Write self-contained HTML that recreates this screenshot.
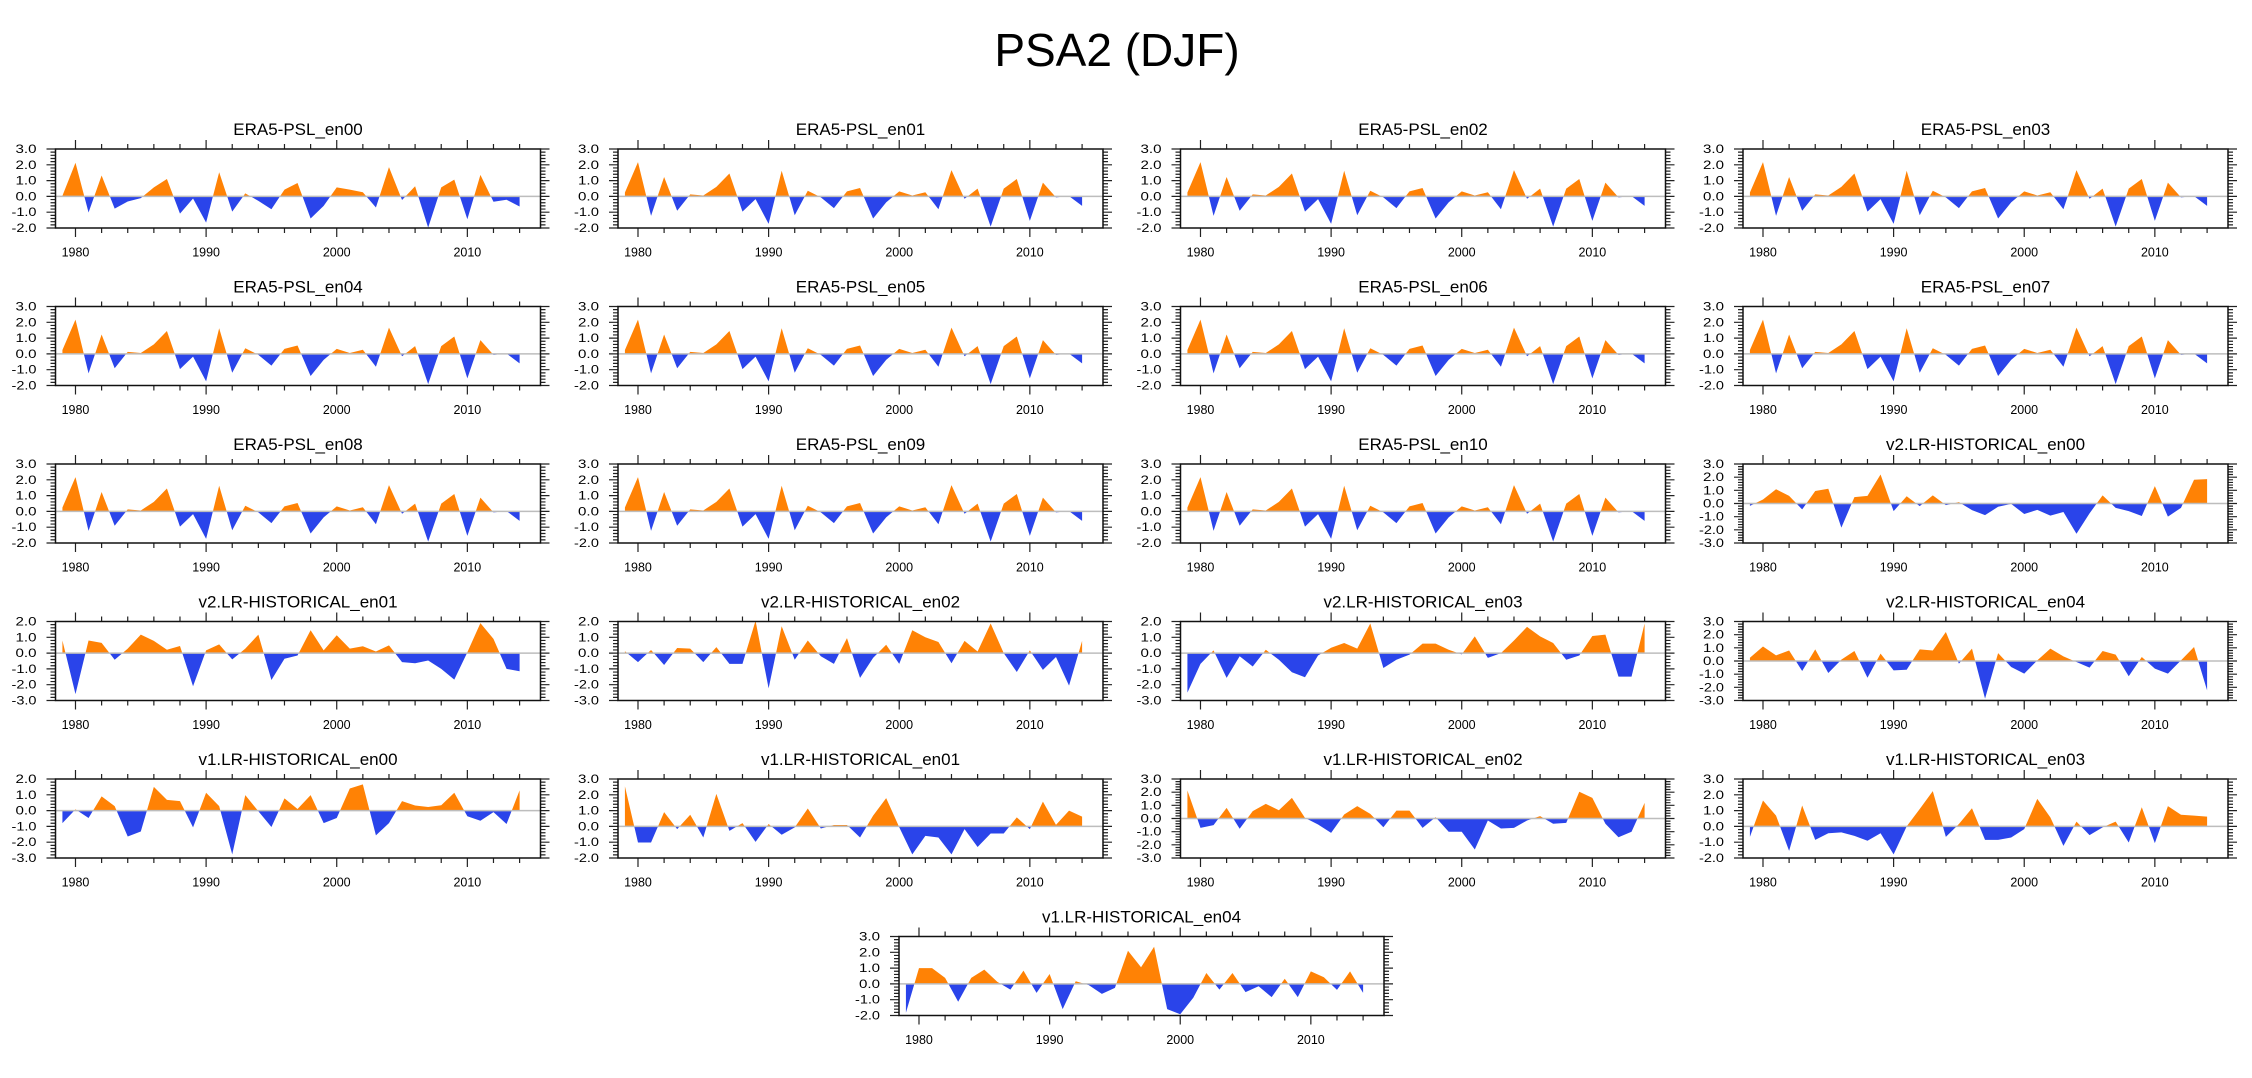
<!DOCTYPE html>
<html><head><meta charset="utf-8">
<style>
html,body{margin:0;padding:0;background:#fff;}
svg{display:block;font-family:"Liberation Sans",Arial,sans-serif;}
</style></head>
<body>
<svg id="fig" width="2252" height="1078" viewBox="0 0 2252 1078" xmlns="http://www.w3.org/2000/svg">
<rect width="2252" height="1078" fill="#fff"/>
<text x="1117" y="66" font-size="46" text-anchor="middle" fill="#000">PSA2 (DJF)</text>
</svg>
<script>
// ---- data (DJF PSA2 index, 1979-2014) ----
const years = [1979,1980,1981,1982,1983,1984,1985,1986,1987,1988,1989,1990,1991,1992,1993,1994,1995,1996,1997,1998,1999,2000,2001,2002,2003,2004,2005,2006,2007,2008,2009,2010,2011,2012,2013,2014];
const xTickYears = [1980,1990,2000,2010];
const era5En00 = [0.04,2.13,-1.02,1.32,-0.77,-0.32,-0.11,0.57,1.1,-1.09,-0.13,-1.66,1.53,-0.96,0.19,-0.28,-0.81,0.43,0.85,-1.4,-0.6,0.57,0.43,0.26,-0.7,1.85,-0.23,0.64,-1.98,0.57,1.06,-1.45,1.36,-0.34,-0.21,-0.64];
const era5Ens = [0.25,2.17,-1.23,1.23,-0.91,0.13,0.06,0.6,1.45,-0.96,-0.17,-1.74,1.62,-1.19,0.36,-0.06,-0.74,0.32,0.53,-1.4,-0.38,0.32,0.06,0.26,-0.81,1.66,-0.15,0.49,-1.91,0.49,1.1,-1.55,0.87,-0.06,0.02,-0.6];
const v2En00 = [-0.18,0.3,1.08,0.58,-0.45,0.95,1.12,-1.83,0.48,0.58,2.2,-0.58,0.55,-0.2,0.62,-0.12,0.1,-0.5,-0.88,-0.25,-0.03,-0.8,-0.48,-0.92,-0.65,-2.3,-0.75,0.62,-0.33,-0.58,-0.95,1.32,-1.0,-0.33,1.8,1.85];
const v2En01 = [0.8,-2.6,0.8,0.65,-0.42,0.28,1.17,0.77,0.21,0.45,-2.1,0.17,0.55,-0.4,0.28,1.17,-1.7,-0.36,-0.15,1.45,0.17,1.13,0.28,0.43,0.1,0.49,-0.57,-0.64,-0.47,-1.0,-1.68,0.05,1.9,0.9,-1.0,-1.15];
const v2En02 = [0.12,-0.57,0.2,-0.75,0.32,0.28,-0.57,0.38,-0.68,-0.68,2.05,-2.23,1.7,-0.42,0.8,-0.2,-0.68,0.95,-1.57,-0.3,0.53,-0.68,1.45,1.0,0.7,-0.64,0.77,0.1,1.87,0.0,-1.2,0.17,-1.06,-0.25,-2.06,0.77];
const v2En03 = [-2.5,-0.68,0.17,-1.57,-0.2,-0.85,0.21,-0.42,-1.21,-1.53,-0.15,0.34,0.64,0.28,1.87,-0.94,-0.42,-0.1,0.6,0.6,0.21,-0.08,1.06,-0.3,0.0,0.8,1.66,1.06,0.64,-0.42,-0.15,1.08,1.17,-1.49,-1.49,1.87];
const v2En04 = [0.25,1.1,0.43,0.8,-0.76,0.88,-0.91,0.1,0.76,-1.27,0.56,-0.71,-0.66,0.88,0.8,2.2,-0.2,0.94,-2.86,0.6,-0.46,-0.96,0.05,0.94,0.35,-0.08,-0.5,0.76,0.48,-1.16,0.3,-0.58,-0.96,0.05,1.06,-2.23];
const v1En00 = [-0.79,0.08,-0.47,0.9,0.28,-1.64,-1.32,1.5,0.68,0.6,-1.06,1.13,0.28,-2.77,0.98,-0.04,-1.04,0.77,0.1,0.98,-0.79,-0.47,1.4,1.66,-1.57,-0.79,0.6,0.32,0.23,0.34,1.13,-0.36,-0.64,-0.1,-0.85,1.28];
const v1En01 = [2.53,-1.02,-1.02,0.9,-0.17,0.74,-0.7,2.06,-0.28,0.21,-0.98,0.15,-0.53,-0.06,1.13,-0.13,0.09,0.09,-0.7,0.68,1.79,-0.05,-1.77,-0.6,-0.7,-1.77,-0.17,-1.3,-0.45,-0.45,0.57,-0.17,1.57,0.1,1.0,0.62];
const v1En02 = [2.13,-0.71,-0.5,0.81,-0.78,0.56,1.11,0.63,1.57,0.05,-0.46,-1.09,0.3,0.94,0.35,-0.66,0.6,0.6,-0.71,0.1,-1.01,-1.01,-2.35,-0.15,-0.76,-0.71,-0.15,0.18,-0.4,-0.33,2.03,1.57,-0.4,-1.42,-1.01,1.19];
const v1En03 = [-0.66,1.64,0.68,-1.55,1.32,-0.85,-0.43,-0.38,-0.6,-0.91,-0.43,-1.77,0.0,1.1,2.23,-0.66,0.15,1.15,-0.85,-0.85,-0.7,-0.17,1.74,0.57,-1.23,0.3,-0.55,-0.06,0.3,-1.02,1.21,-1.06,1.28,0.74,0.68,0.62];
const v1En04 = [-1.83,1.0,1.0,0.38,-1.13,0.38,0.9,0.13,-0.36,0.84,-0.57,0.63,-1.6,0.17,-0.08,-0.63,-0.25,2.1,1.05,2.35,-1.6,-1.92,-0.88,0.69,-0.36,0.69,-0.52,-0.15,-0.84,0.33,-0.84,0.79,0.42,-0.38,0.79,-0.57];

const panelTitles = ["ERA5-PSL_en00","ERA5-PSL_en01","ERA5-PSL_en02","ERA5-PSL_en03","ERA5-PSL_en04","ERA5-PSL_en05","ERA5-PSL_en06","ERA5-PSL_en07","ERA5-PSL_en08","ERA5-PSL_en09","ERA5-PSL_en10","v2.LR-HISTORICAL_en00","v2.LR-HISTORICAL_en01","v2.LR-HISTORICAL_en02","v2.LR-HISTORICAL_en03","v2.LR-HISTORICAL_en04","v1.LR-HISTORICAL_en00","v1.LR-HISTORICAL_en01","v1.LR-HISTORICAL_en02","v1.LR-HISTORICAL_en03","v1.LR-HISTORICAL_en04"];
const panelSeries = [era5En00,era5Ens,era5Ens,era5Ens,era5Ens,era5Ens,era5Ens,era5Ens,era5Ens,era5Ens,era5Ens,v2En00,v2En01,v2En02,v2En03,v2En04,v1En00,v1En01,v1En02,v1En03,v1En04];
const panelYMax = [3,3,3,3,3,3,3,3,3,3,3,3,2,2,2,3,2,3,3,3,3];
const panelYMin = [-2,-2,-2,-2,-2,-2,-2,-2,-2,-2,-2,-3,-3,-3,-3,-3,-3,-2,-3,-2,-2];

const NS = "http://www.w3.org/2000/svg";
const svg = document.getElementById('fig');
const X0 = 1978.47, X1 = 2015.6;
const PW = 485, PH = 79;
const ORANGE = "#ff8205", BLUE = "#2a44ea";

function mk(tag, attrs, parent){
  const e = document.createElementNS(NS, tag);
  for (const k in attrs) e.setAttribute(k, attrs[k]);
  parent.appendChild(e);
  return e;
}

panelTitles.forEach((title, p) => {
  const row = Math.floor(p/4), col = p%4;
  const left = p === 20 ? 899 : 55.5 + 562.5*col;
  const top = 149 + 157.5*row;
  const ymax = panelYMax[p], ymin = panelYMin[p];
  const data = panelSeries[p];
  const xs = v => left + (v - X0) / (X1 - X0) * PW;
  const ys = v => top + (ymax - v) / (ymax - ymin) * PH;

  const g = mk('g', {}, svg);
  
  

  const t = mk('text', {x: left + PW/2, y: top - 14, 'font-size': 17, 'text-anchor': 'middle', fill: '#000'}, g);
  t.textContent = title;
  
  

  // clip paths
  const cid = 'c' + p;
  const defs = mk('defs', {}, g);
  const cpU = mk('clipPath', {id: cid + 'u'}, defs);
  mk('rect', {x: left, y: top, width: PW, height: ys(0) - top}, cpU);
  const cpD = mk('clipPath', {id: cid + 'd'}, defs);
  mk('rect', {x: left, y: ys(0), width: PW, height: top + PH - ys(0)}, cpD);

  let d = 'M' + xs(years[0]).toFixed(2) + ',' + ys(0).toFixed(2);
  years.forEach((yr, i) => { d += ' L' + xs(yr).toFixed(2) + ',' + ys(data[i]).toFixed(2); });
  d += ' L' + xs(years[years.length-1]).toFixed(2) + ',' + ys(0).toFixed(2) + ' Z';

  const pos = mk('path', {d: d, fill: ORANGE, 'clip-path': 'url(#' + cid + 'u)'}, g);
  
  
  const neg = mk('path', {d: d, fill: BLUE, 'clip-path': 'url(#' + cid + 'd)'}, g);
  
  

  const zl = mk('line', {x1: left, x2: left + PW, y1: ys(0), y2: ys(0), stroke: '#bdbdbd', 'stroke-width': 1.5}, g);
  
  

  // ticks
  let tk = '';
  for (let v = ymin; v <= ymax + 1e-6; v += 0.2) {
    const yy = ys(v).toFixed(2);
    const isMaj = Math.abs(v - Math.round(v)) < 1e-6;
    const L = isMaj ? 9 : 5;
    tk += 'M' + (left - L) + ',' + yy + ' H' + left + ' M' + (left + PW) + ',' + yy + ' H' + (left + PW + L) + ' ';
  }
  for (let yr = 1980; yr <= 2014; yr += 2) {
    const xx = xs(yr).toFixed(2);
    const L = (yr % 10 === 0) ? 9 : 5;
    tk += 'M' + xx + ',' + top + ' V' + (top - L) + ' M' + xx + ',' + (top + PH) + ' V' + (top + PH + L) + ' ';
  }
  const ticks = mk('path', {d: tk, stroke: '#222', 'stroke-width': 1.2, fill: 'none'}, g);
  
  

  const fr = mk('rect', {x: left, y: top, width: PW, height: PH, fill: 'none', stroke: '#111', 'stroke-width': 1.5}, g);
  
  

  for (let v = ymax; v >= ymin; v--) {
    const s = v.toFixed(1);
    const lab = mk('text', {x: left - 19, y: ys(v) + 4, 'font-size': 11.5, 'text-anchor': 'end', fill: '#000', textLength: (v < 0 ? 25 : 21), lengthAdjust: 'spacingAndGlyphs'}, g);
    lab.textContent = s;
    
    
  }
  xTickYears.forEach(yr => {
    const lab = mk('text', {x: xs(yr), y: top + PH + 28.7, 'font-size': 12.5, 'text-anchor': 'middle', fill: '#000'}, g);
    lab.textContent = String(yr);
    
    
  });
});
</script>
</body></html>
